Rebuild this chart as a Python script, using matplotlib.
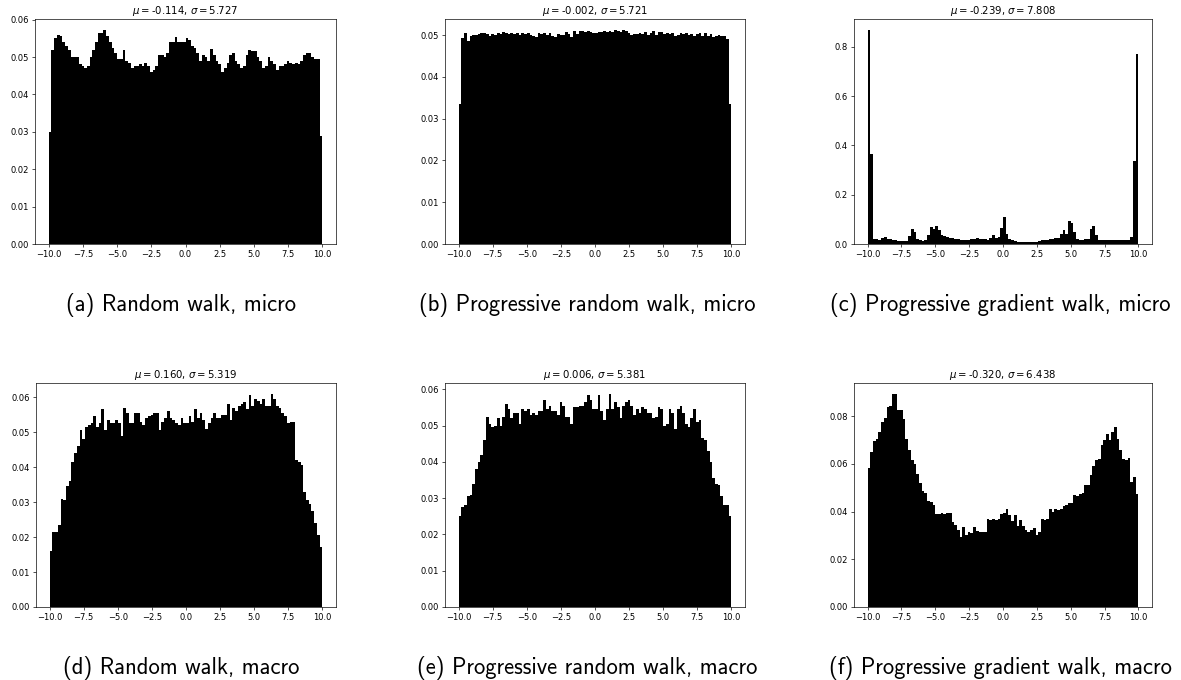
import numpy as np
import matplotlib
matplotlib.use("Agg")
from matplotlib import pyplot as plt

# Density of the final positions, 100 bins over [-10, 10]
rw_micro = [0.030, 0.052, 0.055, 0.056, 0.0555, 0.054, 0.053, 0.052, 0.050, 0.050,
            0.050, 0.048, 0.0475, 0.047, 0.0475, 0.050, 0.052, 0.054, 0.0565, 0.0565,
            0.0573, 0.0555, 0.054, 0.0525, 0.051, 0.0495, 0.0495, 0.052, 0.049, 0.0485,
            0.047, 0.0475, 0.0475, 0.048, 0.0475, 0.0485, 0.0475, 0.046, 0.0465, 0.0475,
            0.0505, 0.0505, 0.050, 0.051, 0.054, 0.054, 0.0553, 0.054, 0.054, 0.054,
            0.055, 0.0545, 0.053, 0.0525, 0.051, 0.049, 0.0505, 0.050, 0.049, 0.0522,
            0.0505, 0.049, 0.048, 0.046, 0.047, 0.0485, 0.0505, 0.051, 0.049, 0.048,
            0.047, 0.0475, 0.0505, 0.052, 0.0515, 0.0515, 0.050, 0.049, 0.047, 0.0475,
            0.050, 0.049, 0.048, 0.0465, 0.0475, 0.0475, 0.048, 0.049, 0.0485, 0.048,
            0.0485, 0.048, 0.049, 0.0505, 0.051, 0.051, 0.050, 0.0495, 0.0495, 0.029]

prw_micro = [0.0335, 0.0492, 0.0505, 0.0487, 0.0497, 0.0500, 0.0501, 0.0503, 0.0505, 0.0505,
             0.0503, 0.0498, 0.0503, 0.0500, 0.0504, 0.0503, 0.0508, 0.0506, 0.0503, 0.0505,
             0.0502, 0.0504, 0.0500, 0.0505, 0.0502, 0.0506, 0.0500, 0.0499, 0.0496, 0.0505,
             0.0503, 0.0505, 0.0500, 0.0505, 0.0499, 0.0495, 0.0503, 0.0500, 0.0500, 0.0507,
             0.0502, 0.0496, 0.0510, 0.0503, 0.0511, 0.0511, 0.0507, 0.0510, 0.0508, 0.0505,
             0.0506, 0.0508, 0.0507, 0.0510, 0.0507, 0.0511, 0.0508, 0.0513, 0.0509, 0.0507,
             0.0513, 0.0510, 0.0506, 0.0500, 0.0503, 0.0502, 0.0506, 0.0503, 0.0507, 0.0500,
             0.0505, 0.0511, 0.0500, 0.0508, 0.0507, 0.0502, 0.0506, 0.0502, 0.0505, 0.0499,
             0.0501, 0.0505, 0.0502, 0.0506, 0.0500, 0.0502, 0.0499, 0.0503, 0.0505, 0.0498,
             0.0506, 0.0499, 0.0502, 0.0496, 0.0499, 0.0500, 0.0499, 0.0497, 0.0490, 0.0335]

pgw_micro = [0.87, 0.365, 0.020, 0.020, 0.017, 0.025, 0.030, 0.022, 0.020, 0.018,
             0.015, 0.014, 0.014, 0.014, 0.014, 0.033, 0.062, 0.047, 0.022, 0.017,
             0.014, 0.018, 0.035, 0.067, 0.060, 0.075, 0.055, 0.035, 0.032, 0.028,
             0.026, 0.025, 0.022, 0.020, 0.016, 0.015, 0.015, 0.017, 0.020, 0.022,
             0.025, 0.022, 0.020, 0.020, 0.018, 0.024, 0.035, 0.025, 0.030, 0.063,
             0.108, 0.042, 0.020, 0.015, 0.012, 0.010, 0.010, 0.010, 0.010, 0.010,
             0.010, 0.010, 0.010, 0.012, 0.015, 0.017, 0.018, 0.020, 0.022, 0.025,
             0.025, 0.042, 0.055, 0.040, 0.092, 0.085, 0.050, 0.020, 0.018, 0.018,
             0.020, 0.022, 0.060, 0.075, 0.038, 0.018, 0.018, 0.016, 0.015, 0.016,
             0.017, 0.017, 0.017, 0.017, 0.017, 0.017, 0.017, 0.030, 0.335, 0.77]

rw_macro = [0.016, 0.0215, 0.0215, 0.0235, 0.031, 0.0305, 0.0345, 0.036, 0.0415, 0.044,
            0.046, 0.0505, 0.048, 0.0515, 0.052, 0.0525, 0.0545, 0.0515, 0.0525, 0.0565,
            0.0505, 0.0535, 0.0525, 0.0525, 0.0535, 0.0525, 0.049, 0.057, 0.0555, 0.0525,
            0.0525, 0.0555, 0.0555, 0.053, 0.052, 0.054, 0.0545, 0.055, 0.0555, 0.0555,
            0.0505, 0.053, 0.054, 0.056, 0.054, 0.0535, 0.0525, 0.052, 0.054, 0.0525,
            0.0525, 0.0545, 0.053, 0.0565, 0.054, 0.0555, 0.0535, 0.051, 0.0525, 0.054,
            0.0555, 0.054, 0.054, 0.055, 0.055, 0.058, 0.0535, 0.057, 0.056, 0.0575,
            0.058, 0.0585, 0.0565, 0.0605, 0.0575, 0.0595, 0.059, 0.058, 0.0595, 0.0575,
            0.0575, 0.061, 0.0595, 0.0575, 0.057, 0.0555, 0.0545, 0.0525, 0.053, 0.053,
            0.042, 0.0415, 0.0405, 0.033, 0.0305, 0.0295, 0.0275, 0.024, 0.0205, 0.0172]

prw_macro = [0.025, 0.0275, 0.028, 0.0305, 0.031, 0.034, 0.038, 0.040, 0.042, 0.046,
             0.0525, 0.0505, 0.0495, 0.050, 0.052, 0.050, 0.0525, 0.056, 0.0545, 0.052,
             0.0535, 0.0535, 0.0505, 0.0545, 0.054, 0.0545, 0.053, 0.0535, 0.053, 0.054,
             0.054, 0.057, 0.0545, 0.0555, 0.054, 0.054, 0.053, 0.0565, 0.0555, 0.0525,
             0.0525, 0.0505, 0.055, 0.055, 0.0555, 0.0555, 0.0565, 0.0585, 0.057, 0.0545,
             0.0545, 0.0585, 0.054, 0.0515, 0.0545, 0.0588, 0.0545, 0.0565, 0.055, 0.052,
             0.0555, 0.0565, 0.057, 0.0555, 0.053, 0.0545, 0.0535, 0.055, 0.0545, 0.0535,
             0.0535, 0.052, 0.0525, 0.055, 0.0545, 0.050, 0.0505, 0.0545, 0.0535, 0.049,
             0.0545, 0.0555, 0.0535, 0.0505, 0.0495, 0.052, 0.0545, 0.051, 0.0515,
             0.0465, 0.046, 0.043, 0.040, 0.0355, 0.034, 0.0335, 0.0305, 0.028, 0.028, 0.025]

pgw_macro = [0.0585, 0.065, 0.0695, 0.0705, 0.0735, 0.0775, 0.0795, 0.084, 0.0845, 0.0895,
             0.0895, 0.0825, 0.0825, 0.079, 0.0705, 0.066, 0.0615, 0.060, 0.056, 0.052,
             0.0485, 0.048, 0.0445, 0.044, 0.043, 0.039, 0.039, 0.0395, 0.039, 0.0395,
             0.0395, 0.0355, 0.0345, 0.0325, 0.0295, 0.0335, 0.030, 0.0315, 0.031, 0.0335,
             0.032, 0.0315, 0.0315, 0.0315, 0.037, 0.0365, 0.037, 0.0365, 0.037, 0.039,
             0.0395, 0.041, 0.0385, 0.036, 0.0385, 0.034, 0.0365, 0.034, 0.0325, 0.0315,
             0.0325, 0.033, 0.030, 0.0315, 0.037, 0.0365, 0.037, 0.041, 0.040, 0.041,
             0.0405, 0.041, 0.0425, 0.043, 0.0435, 0.0435, 0.047, 0.0465, 0.0475, 0.048,
             0.051, 0.051, 0.0555, 0.059, 0.0615, 0.062, 0.068, 0.070, 0.0725, 0.070,
             0.0735, 0.0755, 0.0705, 0.066, 0.062, 0.0615, 0.0625, 0.0525, 0.0545, 0.0475]

means = [-0.114, -0.002, -0.239, 0.160, 0.006, -0.320]
stds = [5.727, 5.721, 7.808, 5.319, 5.381, 6.438]
captions = ["(a) Random walk, micro",
            "(b) Progressive random walk, micro",
            "(c) Progressive gradient walk, micro",
            "(d) Random walk, macro",
            "(e) Progressive random walk, macro",
            "(f) Progressive gradient walk, macro"]
densities = [rw_micro, prw_micro, pgw_micro, rw_macro, prw_macro, pgw_macro]

# each subplot is a shrunk default matplotlib figure
s = 0.607
plt.rcParams.update({
    "font.size": 10 * s,
    "axes.linewidth": 0.8 * s,
    "xtick.major.size": 3.5 * s,
    "ytick.major.size": 3.5 * s,
    "xtick.major.width": 0.8 * s,
    "ytick.major.width": 0.8 * s,
    "xtick.major.pad": 3.5 * s,
    "ytick.major.pad": 3.5 * s,
    "axes.titlepad": 6 * s,
})

W, H = 1181, 680
fig = plt.figure(figsize=(W / 100, H / 100), dpi=100)

# axes boxes in pixels: left, right, top, bottom
boxes = [(35, 336, 19, 244), (445, 745, 19, 244), (854, 1152, 19, 244),
         (36, 336, 383, 607), (445, 745, 383, 607), (854, 1152, 383, 607)]
caption_x = [181, 587, 1000, 181, 587, 1000]
caption_y = [305, 305, 305, 668, 668, 668]

edges = np.linspace(-10, 10, 101)

for i, dens in enumerate(densities):
    l, r, t, b = boxes[i]
    ax = fig.add_axes([l / W, 1 - b / H, (r - l) / W, (b - t) / H])
    ax.hist(edges[:-1], bins=edges, weights=dens, color="black")
    ax.set_title(rf"$\mu = ${means[i]:.3f}, $\sigma = ${stds[i]:.3f}")
    fig.text(caption_x[i] / W, 1 - caption_y[i] / H, captions[i],
             ha="center", va="center", fontsize=16.3, family="cmss10")

fig.savefig("out.png", dpi=100)
